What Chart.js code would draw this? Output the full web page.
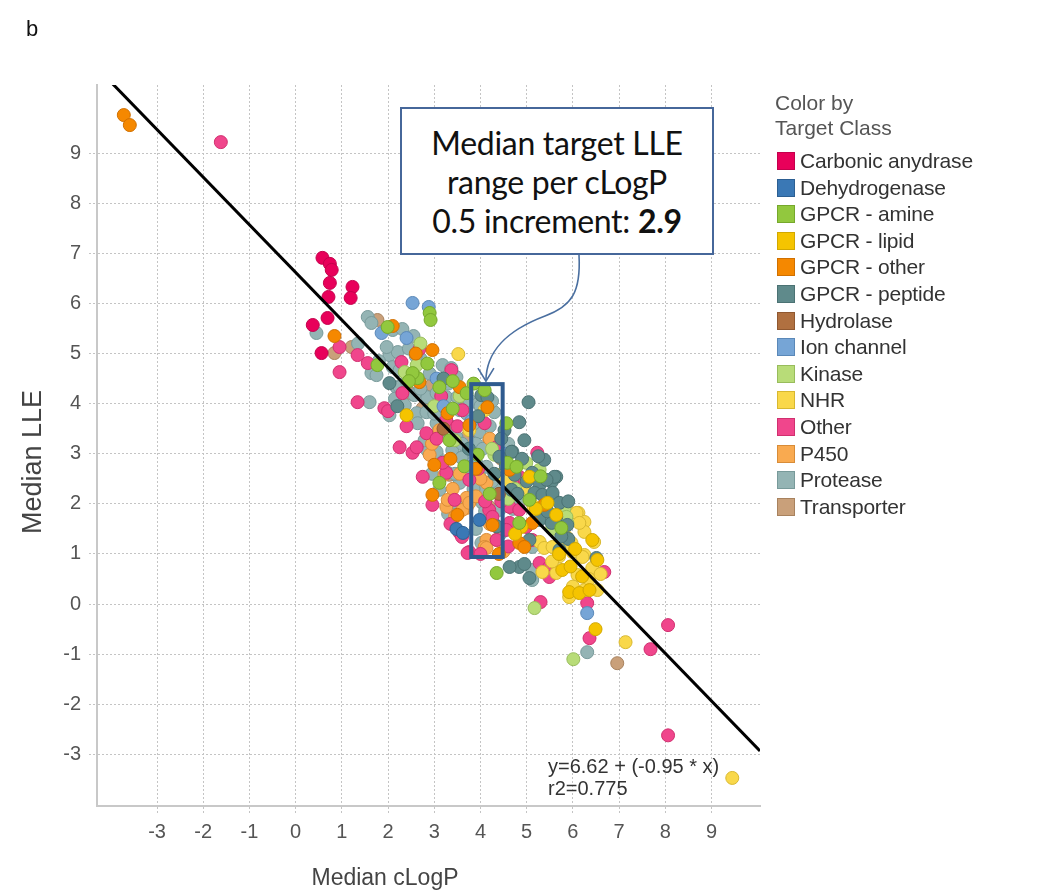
<!DOCTYPE html>
<html>
<head>
<meta charset="utf-8">
<script src="https://cdn.jsdelivr.net/npm/chart.js@4.4.1/dist/chart.umd.min.js"></script>
<style>
  html, body { margin: 0; padding: 0; background: #fff; }
  #wrap { position: relative; width: 1044px; height: 891px; overflow: hidden; font-family: "Liberation Sans", Arial, sans-serif; }
  #c { position: absolute; left: 0; top: 0; }
  #panel { position: absolute; left: 26px; top: 16px; font-size: 22px; color: #111; }
  #note { position: absolute; left: 400px; top: 107px; width: 314px; height: 148px; box-sizing: border-box;
          border: 2px solid #46679a; background: #fff; text-align: center; font-family: Lato, "Open Sans", sans-serif;
          font-size: 32px; line-height: 39px; padding-top: 14px; color: #111; letter-spacing: -0.3px; white-space: nowrap; }
  #eq { position: absolute; left: 548px; top: 755px; font-size: 20px; line-height: 22px; color: #333; white-space: nowrap; }
  #xt { position: absolute; left: 285px; width: 200px; top: 862px; text-align: center; font-size: 23px; line-height: 30px; color: #444; }
  #yt { position: absolute; left: -68px; width: 200px; top: 447px; text-align: center; font-size: 27px; line-height: 30px; color: #444;
        transform: rotate(-90deg); }
  #legend { position: absolute; left: 775px; top: 90px; color: #444; font-size: 21px; }
  #legend .t { line-height: 25px; color: #555; white-space: nowrap; }
  #legend .row { position: absolute; left: 0; height: 20px; white-space: nowrap; }
  #legend .sw { position: absolute; left: 2px; top: 0; width: 18px; height: 18px; box-sizing: border-box; border: 1.5px solid; }
  #legend .lb { position: absolute; left: 25px; top: -2px; line-height: 22px; color: #333; letter-spacing: -0.2px; }
</style>
</head>
<body>
<div id="wrap">
  <canvas id="c" width="1044" height="891"></canvas>
  <div id="panel">b</div>
  <div id="note">Median target LLE<br>range per cLogP<br>0.5 increment: <b>2.9</b></div>
  <div id="eq">y=6.62 + (-0.95 * x)<br>r2=0.775</div>
  <div id="xt">Median cLogP</div>
  <div id="yt">Median LLE</div>
  <div id="legend"><div class="t">Color by<br>Target Class</div></div>
</div>
<script>
// ---- categories / legend
const categories = ["Carbonic anydrase","Dehydrogenase","GPCR - amine","GPCR - lipid","GPCR - other","GPCR - peptide","Hydrolase","Ion channel","Kinase","NHR","Other","P450","Protease","Transporter"];
const fillColors = ["#e8005a","#3a78b5","#92c83e","#f5c400","#f58800","#5f8a8b","#b07040","#76a5d6","#b8dc78","#f9d84a","#f0468c","#f9aa50","#94b4b4","#c9a07a"];
const edgeColors = ["#c4004c","#2c5f92","#76a82c","#d2a800","#d07000","#4b7273","#905830","#5a88b8","#98bc5c","#d8b830","#d0306f","#d88c38","#789a9a","#a8825e"];

// ---- axis ticks
const xTicks = [-3,-2,-1,0,1,2,3,4,5,6,7,8,9];
const yTicks = [-3,-2,-1,0,1,2,3,4,5,6,7,8,9];

// ---- series values [median cLogP, median LLE]
const carbonicAnydrase = [[0.58,6.91],[0.74,6.79],[0.78,6.67],[0.74,6.41],[0.71,6.13],[1.23,6.33],[1.19,6.11],[0.69,5.71],[0.37,5.57],[0.56,5.01]];
const dehydrogenase = [[3.48,1.5],[3.98,1.68],[3.62,1.42]];
const gpcrAmine = [[2.9,5.81],[2.92,5.67],[1.99,5.53],[2.64,4.51],[2.53,4.61],[1.77,4.77],[3.11,4.33],[3.7,4.21],[4.56,3.61],[4.58,2.82],[4.78,2.74],[3.11,2.42],[4.35,0.62],[5.75,1.52],[3.33,3.27],[3.94,2.98],[4.09,4.27],[5.06,2.08],[4.84,1.62],[2.45,4.45],[3.4,3.9],[3.4,4.45],[2.85,4.8],[3.65,2.75],[4.2,2.2],[5.3,2.55],[3.85,4.4]];
const gpcrLipid = [[2.4,3.77],[5.06,2.54],[6.42,1.28],[5.92,0.24],[6.14,0.22],[6.36,0.28],[6.49,-0.5],[5.77,0.68],[5.64,1.78],[6.53,0.88],[5.45,2.02],[4.89,1.54],[6.05,1.1],[5.2,1.9],[5.7,1.0],[6.2,0.55],[4.75,1.4],[5.95,0.75]];
const gpcrOther = [[-3.72,9.76],[-3.59,9.56],[0.84,5.35],[2.1,5.55],[2.96,5.07],[2.68,4.43],[3.55,4.33],[4.15,3.93],[3.0,2.78],[2.96,2.18],[3.5,1.78],[5.12,1.62],[4.84,1.22],[4.95,1.14],[4.26,1.58],[3.29,3.81],[3.76,3.57],[4.63,2.68],[5.38,1.98],[3.9,2.7],[3.35,2.9],[4.4,1.0],[2.6,5.0]];
const gpcrPeptide = [[5.04,4.03],[4.84,3.63],[4.69,3.04],[5.64,2.54],[5.54,2.44],[5.28,2.38],[5.17,2.22],[5.34,2.18],[5.56,2.14],[5.6,2.54],[5.43,2.48],[5.12,2.62],[4.41,2.94],[4.67,3.04],[5.28,1.68],[5.56,2.22],[5.71,2.02],[5.64,1.74],[5.54,1.62],[5.88,1.58],[6.51,0.92],[5.06,1.28],[5.71,1.08],[5.06,0.52],[4.84,0.74],[4.63,0.74],[2.03,4.41],[4.02,4.17],[4.15,4.13],[4.52,3.47],[4.95,3.27],[4.67,2.28],[5.38,2.88],[4.74,2.58],[3.2,4.5],[3.75,3.1],[4.3,2.6],[5.9,1.3],[2.2,3.95],[4.45,3.3],[4.9,2.9],[5.0,2.45],[5.25,2.95],[4.8,2.2],[5.45,1.85],[5.75,1.35],[4.55,2.75],[3.95,3.75],[4.35,1.55],[5.9,2.05],[4.95,0.8]];
const hydrolase = [[3.2,3.5],[4.4,2.2]];
const ionChannel = [[2.53,6.01],[2.88,5.93],[1.86,5.41],[2.4,5.31],[6.31,-0.18],[3.8,3.65],[3.05,4.5],[3.2,3.95],[4.55,3.0]];
const kinase = [[2.62,4.77],[4.99,2.82],[5.17,-0.08],[6.01,-1.1],[5.88,1.62],[5.82,1.92],[5.86,1.74],[2.36,4.63],[3.44,3.27],[4.3,2.98],[5.28,2.68],[3.0,3.95],[4.6,2.1],[3.55,4.15],[4.25,3.1],[5.55,1.5],[2.7,5.2],[4.75,2.3]];
const nhr = [[3.52,4.99],[6.12,1.82],[6.25,1.64],[6.25,1.44],[6.46,1.24],[5.97,1.22],[5.99,1.04],[6.25,0.98],[6.42,0.72],[6.1,0.58],[6.25,0.28],[6.53,0.28],[5.92,0.14],[5.86,1.94],[6.08,1.82],[5.28,1.24],[5.38,1.12],[5.56,1.14],[5.86,1.34],[6.14,1.62],[6.21,0.94],[5.34,0.64],[5.64,0.62],[7.14,-0.76],[9.45,-3.47],[4.95,2.28],[4.41,2.58],[3.76,3.47],[4.09,3.87],[5.7,0.95],[6.35,0.5],[5.15,1.95],[5.55,0.85],[6.0,0.35],[4.6,2.45],[5.8,1.15],[6.6,0.6]];
const other = [[-1.62,9.22],[0.95,5.13],[1.34,4.97],[0.95,4.63],[1.56,4.81],[2.68,5.09],[2.29,4.83],[2.31,4.21],[1.34,4.03],[1.92,3.91],[2.83,3.41],[3.37,4.67],[3.61,3.87],[3.26,3.67],[4.09,3.61],[4.35,3.13],[5.23,3.02],[2.25,3.13],[2.53,3.02],[2.62,3.13],[3.26,2.62],[3.18,2.82],[2.75,2.54],[3.76,2.48],[4.84,2.54],[4.69,2.42],[2.96,1.98],[3.44,2.08],[4.19,1.88],[4.26,1.74],[4.63,1.94],[4.84,1.88],[4.99,1.54],[4.63,1.62],[4.56,1.48],[4.35,1.28],[3.76,1.04],[3.55,1.42],[3.6,1.34],[3.72,1.02],[5.12,1.28],[5.28,0.82],[5.49,0.74],[5.49,0.54],[5.3,0.04],[6.68,0.64],[6.31,0.02],[6.36,-0.68],[7.68,-0.9],[8.06,-0.42],[8.06,-2.62],[2.0,3.85],[3.05,3.3],[3.5,3.55],[3.95,2.7],[4.45,2.05],[4.1,2.05],[2.4,3.55],[3.15,4.15],[4.6,1.15],[4.0,1.0],[3.35,1.6]];
const p450 = [[3.26,1.94],[3.29,2.08],[3.7,2.12],[3.7,1.92],[3.61,1.88],[3.76,2.02],[4.13,2.42],[4.13,1.28],[4.09,1.14],[4.13,1.12],[4.35,1.28],[2.9,2.98],[3.22,2.58],[3.11,3.47],[4.0,2.5],[3.4,2.3],[4.2,3.3],[3.45,1.75],[4.2,1.6],[3.9,2.15],[3.55,2.6],[2.95,3.2],[4.5,1.05]];
const protease = [[0.45,5.41],[1.56,5.73],[1.64,5.61],[2.1,5.47],[2.31,5.49],[2.03,4.97],[2.21,5.03],[2.1,4.73],[2.25,4.67],[1.64,4.61],[1.75,4.57],[2.18,4.33],[1.6,4.03],[2.03,3.77],[2.62,3.81],[2.85,4.13],[3.05,4.21],[3.05,3.41],[3.18,4.77],[3.37,4.71],[3.48,4.53],[3.26,4.13],[3.5,4.13],[2.83,3.83],[2.64,3.61],[3.05,3.61],[3.11,3.43],[3.48,3.33],[3.98,3.43],[4.3,3.83],[2.85,3.07],[3.05,3.04],[3.39,3.07],[3.61,2.94],[3.72,2.74],[3.91,2.82],[4.13,2.74],[3.98,2.54],[3.55,2.42],[3.11,2.28],[3.48,2.02],[4.02,2.28],[4.04,2.02],[4.41,1.88],[4.56,2.28],[4.35,2.28],[4.45,1.42],[4.02,1.22],[5.12,1.14],[5.12,0.68],[5.12,0.48],[5.43,1.74],[6.31,-0.96],[3.29,2.62],[3.59,2.92],[1.97,5.13],[2.25,4.33],[2.57,4.17],[2.36,3.97],[3.55,3.87],[3.76,4.07],[2.79,3.27],[1.35,5.2],[2.7,4.9],[3.9,3.2],[4.2,3.55],[4.6,3.2],[2.45,5.1],[2.6,4.95],[2.9,4.6],[3.3,4.4],[2.7,4.3],[3.0,3.8],[3.35,3.55],[3.7,3.8],[3.85,3.6],[4.05,3.1],[3.6,3.2],[3.2,2.85],[3.45,2.6],[3.85,2.3],[4.25,2.45],[4.1,1.85],[4.3,1.6],[3.9,1.5],[4.7,1.9],[4.85,2.05],[2.4,4.45],[2.15,4.1],[1.8,4.85],[2.55,5.35],[3.95,4.0],[4.25,4.05],[2.95,2.6],[4.5,2.6],[3.3,1.8],[4.0,3.95]];
const transporter = [[0.84,5.01],[1.21,5.13],[1.77,5.67],[2.94,4.37],[2.75,3.91],[3.7,3.33],[4.19,3.27],[4.19,1.94],[4.89,2.28],[6.96,-1.18],[3.87,3.47],[3.33,2.58],[3.6,3.9],[4.45,2.9],[2.5,4.2]];

// regression line y = 6.62 - 0.95x, end points across the plot
const fitX = [-4.3, 10.05];
const fitY = [10.705, -2.93];

// highlighted cLogP bin [x0,x1] and its LLE range [y0,y1]
const binX = [3.8, 4.48];
const binY = [0.94, 4.39];

const seriesValues = [carbonicAnydrase, dehydrogenase, gpcrAmine, gpcrLipid, gpcrOther, gpcrPeptide, hydrolase, ionChannel, kinase, nhr, other, p450, protease, transporter];

// ---- HTML legend
const leg = document.getElementById('legend');
categories.forEach((name, i) => {
  const r = document.createElement('div');
  r.className = 'row';
  r.style.top = (62 + i * 26.6) + 'px';
  r.innerHTML = '<span class="sw" style="background:' + fillColors[i] + ';border-color:' + edgeColors[i] + '"></span><span class="lb">' + name + '</span>';
  leg.appendChild(r);
});

// ---- datasets
const datasets = [{
  type: 'scatter',
  label: 'fit',
  data: fitX.map((x, i) => ({x: x, y: fitY[i]})),
  showLine: true,
  borderColor: '#000',
  borderWidth: 3,
  pointRadius: 0,
  fill: false
}];
seriesValues.forEach((arr, i) => {
  datasets.push({
    type: 'scatter',
    label: categories[i],
    data: arr.map(p => ({x: p[0], y: p[1]})),
    backgroundColor: fillColors[i],
    borderColor: edgeColors[i],
    borderWidth: 1,
    pointRadius: 6.5
  });
});

const gridColor = (ctx, ticks) => (ticks.includes(ctx.tick && ctx.tick.value) ? '#c4c4c4' : 'rgba(0,0,0,0)');

const overlay = {
  id: 'overlay',
  afterDatasetsDraw(chart) {
    const {ctx, scales} = chart;
    const x0 = scales.x.getPixelForValue(binX[0]), x1 = scales.x.getPixelForValue(binX[1]);
    const y0 = scales.y.getPixelForValue(binY[1]), y1 = scales.y.getPixelForValue(binY[0]);
    ctx.save();
    ctx.strokeStyle = '#2f5b8f';
    ctx.lineWidth = 4;
    ctx.strokeRect(x0, y0, x1 - x0, y1 - y0);
    // curved arrow from the note box to the bin
    const tx = (x0 + x1) / 2 - 1, ty = y0 - 3;
    ctx.strokeStyle = '#4a6fa0';
    ctx.lineWidth = 1.6;
    ctx.beginPath();
    ctx.moveTo(579, 255);
    ctx.bezierCurveTo(581, 292, 572, 306, 545, 316);
    ctx.bezierCurveTo(508, 330, tx, 350, tx, ty);
    ctx.stroke();
    ctx.beginPath();
    ctx.moveTo(tx - 8, ty - 13);
    ctx.lineTo(tx, ty);
    ctx.lineTo(tx + 8, ty - 13);
    ctx.stroke();
    ctx.restore();
  }
};

const tickFont = { family: '"Liberation Sans", Arial, sans-serif', size: 20 };

new Chart(document.getElementById('c'), {
  data: { datasets },
  options: {
    responsive: false,
    animation: false,
    devicePixelRatio: 1,
    layout: { padding: { left: 16, top: 85, right: 284, bottom: 0 } },
    plugins: { legend: { display: false }, tooltip: { enabled: false } },
    scales: {
      x: {
        type: 'linear', min: -4.3, max: 10.05,
        ticks: { stepSize: 1, includeBounds: false, color: '#555', padding: 6, font: tickFont,
                 callback: v => xTicks.includes(v) ? String(v) : '' },
        grid: { color: c => gridColor(c, xTicks), tickColor: c => gridColor(c, xTicks),
                tickBorderDash: [2, 2], tickLength: 8, lineWidth: 1 },
        border: { display: true, color: '#c8c8c8', width: 2, dash: [2, 2] },
        title: { display: false },
        afterFit: s => { s.height = 85; }
      },
      y: {
        type: 'linear', min: -4.03, max: 10.36,
        ticks: { stepSize: 1, includeBounds: false, color: '#555', padding: 8, font: tickFont,
                 callback: v => yTicks.includes(v) ? String(v) : '' },
        grid: { color: c => gridColor(c, yTicks), tickColor: c => gridColor(c, yTicks),
                tickBorderDash: [2, 2], tickLength: 8, lineWidth: 1 },
        border: { display: true, color: '#c8c8c8', width: 2, dash: [2, 2] },
        title: { display: false },
        afterFit: s => { s.width = 81; }
      }
    }
  },
  plugins: [overlay]
});
</script>
</body>
</html>
